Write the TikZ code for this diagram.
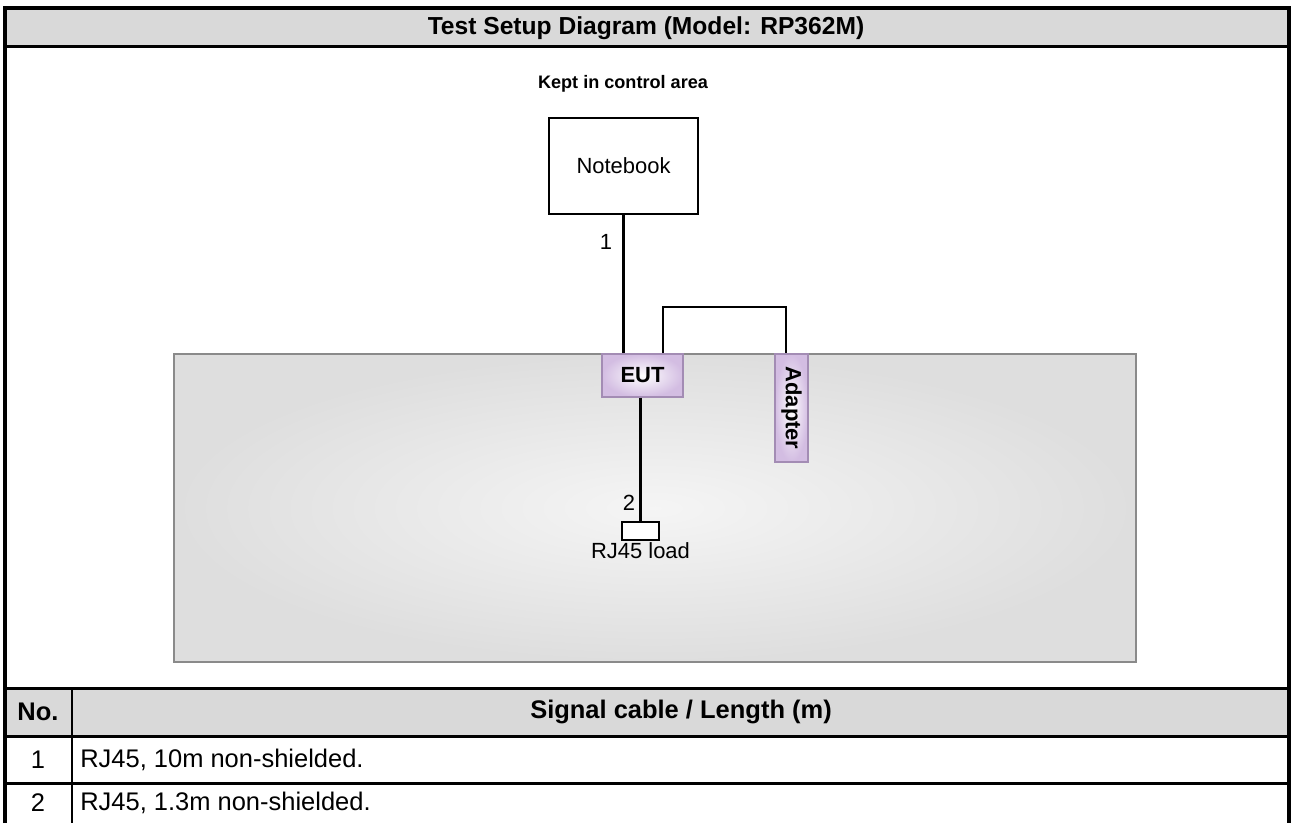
\documentclass[tikz,border=0pt]{standalone}
\usepackage{fontspec}
\setmainfont{Liberation Sans}
\definecolor{cellgray}{HTML}{D9D9D9}
\definecolor{roomgray}{HTML}{DEDEDE}
\definecolor{roomedge}{HTML}{8A8A8A}
\definecolor{lilac}{HTML}{D3BDE2}
\definecolor{lilacedge}{HTML}{A38CB4}
\begin{document}
\begin{tikzpicture}[x=0.02cm, y=-0.02cm,
  rule/.style={line width=1.7pt},
  frame/.style={line width=2.3pt},
  cable/.style={line width=1.4pt},
  cell/.style={font=\fontsize{14.5}{16}\selectfont, inner sep=0pt},
  head/.style={cell, font=\fontsize{14.5}{16}\selectfont\bfseries},
  room/.style={draw=roomedge, line width=1.3pt, inner color=white!96!black, outer color=roomgray, minimum width=19.24cm, minimum height=6.16cm},
  unit/.style={draw=lilacedge, line width=1pt, inner color=white, outer color=lilac, font=\fontsize{12.5}{14}\selectfont\bfseries, inner sep=0pt},
  device/.style={draw, line width=0.9pt, fill=white, font=\fontsize{12.5}{14}\selectfont, minimum width=2.98cm, minimum height=1.92cm},
  tag/.style={font=\fontsize{12.5}{14}\selectfont, inner sep=1pt}
]
\useasboundingbox (0,0) rectangle (1291,823);
\fill[white] (0,0) rectangle (1291,823);
\fill[cellgray] (4,8) rectangle (1289,46);
\fill[cellgray] (4,688) rectangle (1289,736);

\node[room] (room) at (655,508) {};
\node[head, font=\fontsize{14}{16}\selectfont\bfseries] (title) at (646,28) {Test Setup Diagram (Model: RP362M)};
\node[font=\fontsize{10.3}{12}\selectfont\bfseries] (kept) at (623,84) {Kept in control area};
\node[device] (nb) at (623.5,166) {Notebook};
\node[unit, minimum width=1.62cm, minimum height=0.86cm] (eut) at (642.5,375.5) {EUT};
\node[unit, rotate=-90, minimum width=2.16cm, minimum height=0.66cm] (adapter) at (791.5,408) {Adapter};
\node[draw, line width=0.9pt, fill=white, minimum width=0.74cm, minimum height=0.36cm, inner sep=0pt] (load) at (640.5,531) {};
\node[tag, anchor=north] (loadtxt) at (load.south) {RJ45 load};
\node[tag] (c1) at (606,242) {1};
\node[tag] (c2) at (629,503) {2};

\draw[cable] (nb.south) -- (nb.south |- eut.north);
\draw[cable] ([xshift=0.41cm]eut.north) |- ([xshift=-0.11cm, yshift=0.92cm]adapter.west) -- ([xshift=-0.11cm]adapter.west);
\draw[cable] (load.north |- eut.south) -- (load.north);

\node[head] (nohead) at (38,712) {No.};
\node[head] (sighead) at (681,712) {Signal cable / Length (m)};
\node[cell] (no1) at (38,760) {1};
\node[cell, anchor=west] (sig1) at (80,760) {RJ45, 10m non-shielded.};
\node[cell] (no2) at (38,803) {2};
\node[cell, anchor=west] (sig2) at (80,803) {RJ45, 1.3m non-shielded.};

\draw[frame] (5,823) -- (5,8) -- (1289.5,8) -- (1289.5,823);
\draw[rule] (5,46) -- (1289.5,46);
\draw[rule] (5,688) -- (1289.5,688);
\draw[rule] (5,736) -- (1289.5,736);
\draw[rule] (5,783) -- (1289.5,783);
\draw[line width=1.2pt] (72,688) -- (72,823);
\end{tikzpicture}
\end{document}
